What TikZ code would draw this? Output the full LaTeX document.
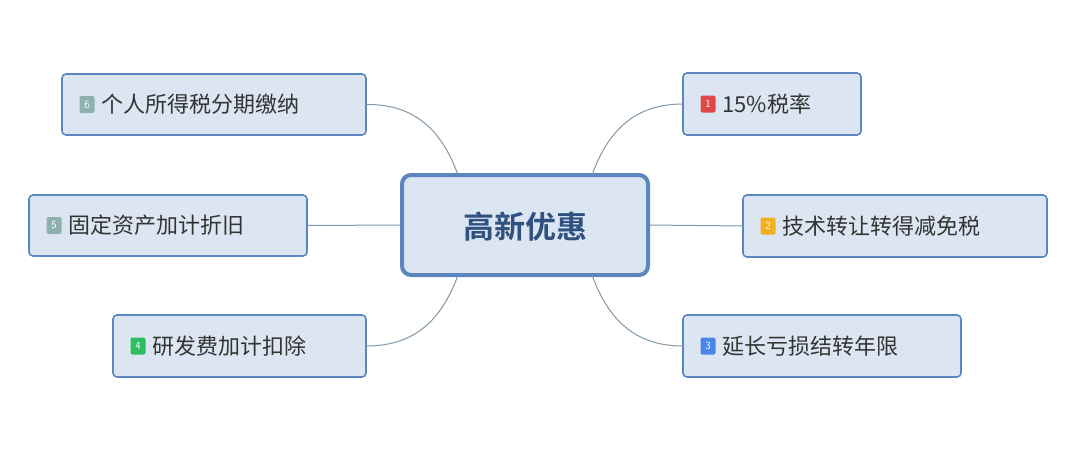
\documentclass[tikz,border=0pt]{standalone}
\usepackage{fontspec}
\newfontfamily\cjk{Noto Sans CJK SC}
\newfontfamily\cjkb{Noto Sans CJK SC Bold}
\definecolor{fillc}{HTML}{DCE6F2}
\definecolor{bord}{HTML}{5B86BF}
\definecolor{linec}{HTML}{7F97A8}
\definecolor{txt}{HTML}{333333}
\definecolor{ctxt}{HTML}{2F5280}
\definecolor{bred}{HTML}{E04848}
\definecolor{bor}{HTML}{F2B01E}
\definecolor{bblue}{HTML}{4A86E8}
\definecolor{bgreen}{HTML}{2DBE60}
\definecolor{bgrey}{HTML}{8FB0B0}
\tikzset{
 leaf/.style={draw=bord,line width=1.6pt,fill=fillc,rounded corners=4pt,inner sep=0pt},
 conn/.style={draw=linec,line width=1pt},
 badge/.style={fill=#1,rounded corners=2pt,minimum width=15pt,minimum height=17pt,inner sep=0pt,text=white,font=\fontsize{11}{12}\selectfont\sffamily},
 lbl/.style={anchor=west,text=txt,font=\cjk\fontsize{22}{24}\selectfont}
}
\begin{document}
\begin{tikzpicture}[x=1pt,y=-1pt]
\useasboundingbox (0,0) rectangle (1080,456);
\node[leaf,minimum width=246pt,minimum height=100pt,line width=4pt,rounded corners=9pt] (c) at (525,225) {};
\node[text=ctxt,font=\cjkb\fontsize{31}{34}\selectfont] (ct) at (525,227) {高新优惠};
\foreach \n/\xa/\ya/\xb/\yb/\col/\num/\t in {
 6/62/74/366/135/bgrey/6/个人所得税分期缴纳,
 5/29/195/307/256/bgrey/5/固定资产加计折旧,
 4/113/315/366/377/bgreen/4/研发费加计扣除,
 1/683/73/861/135/bred/1/15\%税率,
 2/743/195/1047/257/bor/2/技术转让转得减免税,
 3/683/315/961/377/bblue/3/延长亏损结转年限}{
 \path[leaf] (\xa,\ya) rectangle (\xb,\yb);
 \coordinate (L\n) at (\xa,{(\ya+\yb)/2});
 \coordinate (R\n) at (\xb,{(\ya+\yb)/2});
 \node[badge=\col] (b\n) at ({\xa+25},{(\ya+\yb)/2}) {\num};
 \node[lbl] (t\n) at ({\xa+36},{(\ya+\yb)/2}) {\t};
}
\coordinate (ctl) at (458,175); \coordinate (ctr) at (592,175);
\coordinate (cbl) at (458,275); \coordinate (cbr) at (592,275);
\draw[conn] (ctl) .. controls (440,125) and (410,104) .. (R6);
\draw[conn] (ctr) .. controls (610,125) and (640,104) .. (L1);
\draw[conn] (cbl) .. controls (440,325) and (410,346) .. (R4);
\draw[conn] (cbr) .. controls (610,325) and (640,346) .. (L3);
\draw[conn] (c.west) -- (R5);
\draw[conn] (c.east) -- (L2);
\end{tikzpicture}
\end{document}
